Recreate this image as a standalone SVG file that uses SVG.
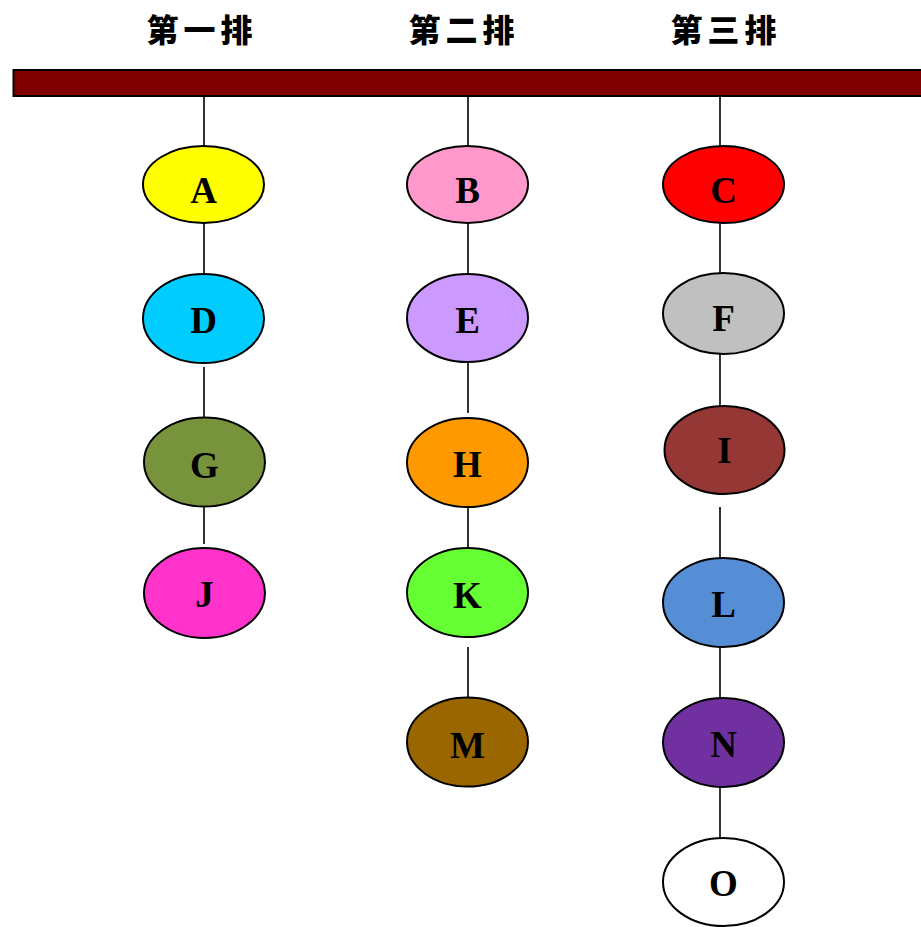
<svg xmlns="http://www.w3.org/2000/svg" width="921" height="927" viewBox="0 0 921 927">
  <style>
    .hdr { font-family: "Noto Sans CJK SC", "Noto Sans CJK TC", sans-serif; font-weight: 900; font-size: 32px; letter-spacing: 5px; text-anchor: middle; fill: #000; }
    .node ellipse { stroke: #000; stroke-width: 2; }
    .node text { font-family: "Liberation Serif", "Times New Roman", serif; font-weight: bold; font-size: 37px; text-anchor: middle; fill: #000; }
    .wire line { stroke: #000; stroke-width: 1.6; }
  </style>

  <rect width="921" height="927" fill="#fff"/>

  <!-- row headings -->
  <g id="headers">
    <text class="hdr" x="202" y="42">第一排</text>
    <text class="hdr" x="464" y="42">第二排</text>
    <text class="hdr" x="726" y="42">第三排</text>
  </g>

  <!-- top beam -->
  <rect id="beam" x="13.5" y="70" width="910" height="26" fill="#800000" stroke="#000" stroke-width="2"/>

  <!-- vertical links -->
  <g id="connectors" class="wire">
    <line x1="204" y1="96" x2="204" y2="146"/>
    <line x1="204" y1="223" x2="204" y2="274"/>
    <line x1="204" y1="367" x2="204" y2="418"/>
    <line x1="204" y1="507" x2="204" y2="544"/>

    <line x1="468" y1="96" x2="468" y2="146"/>
    <line x1="468" y1="223" x2="468" y2="274"/>
    <line x1="468" y1="362" x2="468" y2="413"/>
    <line x1="468" y1="507" x2="468" y2="548"/>
    <line x1="468" y1="647" x2="468" y2="697"/>

    <line x1="720" y1="96" x2="720" y2="146"/>
    <line x1="720" y1="223" x2="720" y2="273"/>
    <line x1="720" y1="354" x2="720" y2="406"/>
    <line x1="720" y1="507" x2="720" y2="558"/>
    <line x1="720" y1="647" x2="720" y2="698"/>
    <line x1="720" y1="787" x2="720" y2="838"/>
  </g>

  <!-- column 1 -->
  <g id="node-A" class="node"><ellipse cx="203.5" cy="184.5" rx="60.5" ry="38.5" fill="#FFFF00"/><text x="203.5" y="203">A</text></g>
  <g id="node-D" class="node"><ellipse cx="203.5" cy="318.5" rx="60.5" ry="44.5" fill="#00CCFF"/><text x="203.5" y="333">D</text></g>
  <g id="node-G" class="node"><ellipse cx="204.5" cy="462" rx="60.5" ry="44.5" fill="#77933C"/><text x="204.5" y="478">G</text></g>
  <g id="node-J" class="node"><ellipse cx="204.5" cy="593" rx="60.5" ry="45" fill="#FF33CC"/><text x="204.5" y="607">J</text></g>

  <!-- column 2 -->
  <g id="node-B" class="node"><ellipse cx="467.5" cy="184.5" rx="60.5" ry="38.5" fill="#FF99CC"/><text x="467.5" y="203">B</text></g>
  <g id="node-E" class="node"><ellipse cx="467.5" cy="318" rx="60.5" ry="44" fill="#CC99FF"/><text x="467.5" y="333">E</text></g>
  <g id="node-H" class="node"><ellipse cx="467.5" cy="462.5" rx="60.5" ry="44.5" fill="#FF9900"/><text x="467.5" y="477">H</text></g>
  <g id="node-K" class="node"><ellipse cx="467.5" cy="592.5" rx="60.5" ry="44.5" fill="#66FF33"/><text x="467.5" y="608">K</text></g>
  <g id="node-M" class="node"><ellipse cx="467.5" cy="742" rx="60.5" ry="44.5" fill="#996600"/><text x="467.5" y="758">M</text></g>

  <!-- column 3 -->
  <g id="node-C" class="node"><ellipse cx="723.5" cy="184.5" rx="60.5" ry="38.5" fill="#FF0000"/><text x="723.5" y="203">C</text></g>
  <g id="node-F" class="node"><ellipse cx="723.5" cy="313.5" rx="60.5" ry="40.5" fill="#C0C0C0"/><text x="723.5" y="331">F</text></g>
  <g id="node-I" class="node"><ellipse cx="724.5" cy="450" rx="60" ry="44" fill="#953735"/><text x="724.5" y="463">I</text></g>
  <g id="node-L" class="node"><ellipse cx="723.5" cy="602.5" rx="60.5" ry="44.5" fill="#558ED5"/><text x="723.5" y="617">L</text></g>
  <g id="node-N" class="node"><ellipse cx="723.5" cy="742.5" rx="60.5" ry="44.5" fill="#7030A0"/><text x="723.5" y="757">N</text></g>
  <g id="node-O" class="node"><ellipse cx="723.5" cy="882" rx="60.5" ry="44" fill="#FFFFFF"/><text x="723.5" y="896">O</text></g>
</svg>
